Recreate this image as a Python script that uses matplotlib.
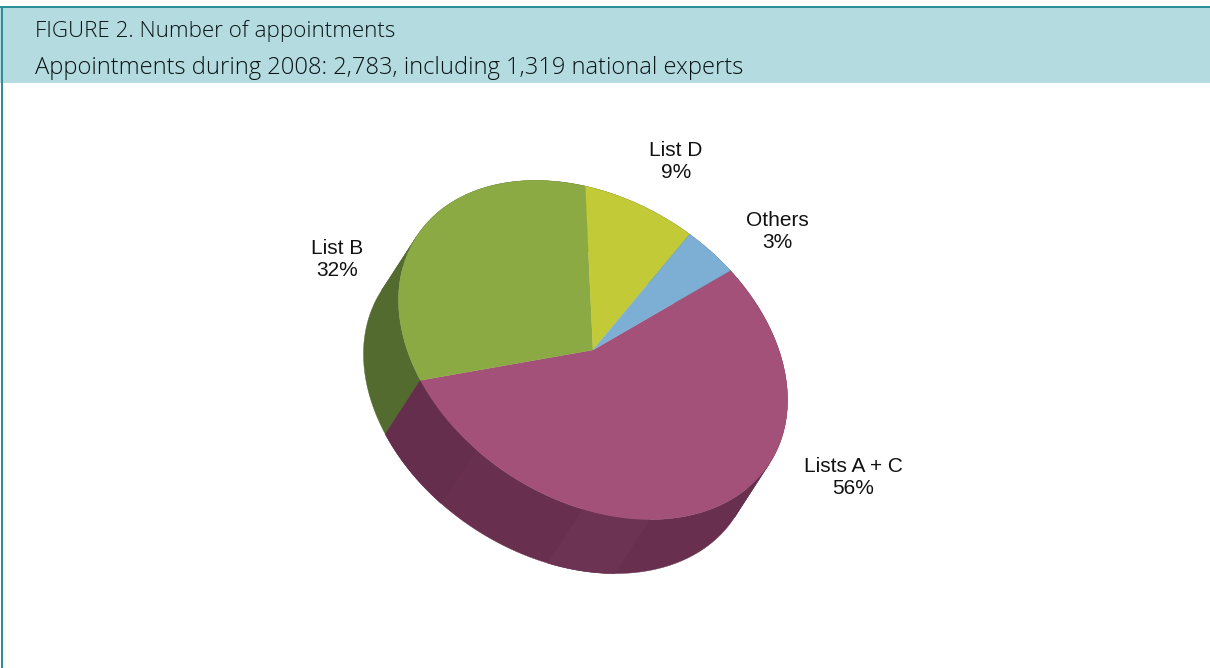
import numpy as np
import matplotlib
matplotlib.use('Agg')
import matplotlib.pyplot as plt
from matplotlib.patches import Wedge, Polygon, Rectangle
from matplotlib.transforms import Affine2D

# data
title_lines = ['FIGURE 2. Number of appointments',
               'Appointments during 2008: 2,783, including 1,319 national experts']
names = ['Lists A + C', 'List B', 'List D', 'Others']
percents = [56, 32, 9, 3]
# share of the circle each slice takes as drawn in the picture
drawn_shares = [54.9, 32.0, 8.9, 4.2]

top_colors = ['#A35178', '#8BAA43', '#C2CA37', '#7DAED4']
wall_colors = ['#682F4E', '#546B30', '#6F7420', '#4C7396']
label_pos = [(853, 477), (337, 260), (676, 161), (777, 231)]

# ellipse of the pie top, in pixels
cx, cy = 593, 350
M = np.array([[194.5, 0.0], [50.0, 162.0]])
depth = np.array([-35.0, 54.0])
start_angle = -45.1

fig = plt.figure(figsize=(12.10, 6.68), dpi=100)
ax = fig.add_axes([0, 0, 1, 1])
ax.set_xlim(0, 1210)
ax.set_ylim(668, 0)
ax.axis('off')

# header band and frame
ax.add_patch(Rectangle((0, 8), 1210, 75, fc='#B4DBE0', ec='none'))
ax.add_patch(Rectangle((0, 6), 1210, 2.2, fc='#2F8F99', ec='none'))
ax.add_patch(Rectangle((1, 6), 2, 662, fc='#2F8F99', ec='none'))
ax.text(35, 31.5, title_lines[0], fontsize=16.1, family='Open Sans', weight='light', color='#0A1416', va='center')
ax.text(35, 68.5, title_lines[1], fontsize=17.1, family='Open Sans', weight='light', color='#0A1416', va='center')

# rim angles where the wall outline leaves the ellipse
d_unit = np.linalg.solve(M, depth)
tangent = np.degrees(np.arctan2(d_unit[1], d_unit[0]))
tangents = [tangent + 90 + k * 180 for k in range(-3, 4)]


def rim(t0, t1):
    t = np.radians(np.linspace(t0, t1, 120))
    pts = np.column_stack([np.cos(t), np.sin(t)]) @ M.T
    return pts + [cx, cy]


def wall(t0, t1, color):
    # split at the tangent points so each polygon stays simple
    cuts = [t0] + [a for a in tangents if t0 < a < t1] + [t1]
    for a, b in zip(cuts[:-1], cuts[1:]):
        p = rim(a, b)
        ax.add_patch(Polygon(np.vstack([p, (p + depth)[::-1]]), closed=True, fc=color, ec=color, lw=0.3))


to_screen = Affine2D.from_values(M[0, 0], M[1, 0], M[0, 1], M[1, 1], cx, cy) + ax.transData

angles = start_angle + np.concatenate([[0], np.cumsum(drawn_shares)]) * 3.6

# side walls, back ones first
for i in [2, 3, 1, 0]:
    wall(angles[i], angles[i + 1], wall_colors[i])

# slight shading steps seen on the purple wall
wall(73, 93, '#6D3352')
wall(127, 135, '#652E4C')
wall(135, angles[1], '#652E4C')

# top of the pie
for i in range(len(names)):
    ax.add_patch(Wedge((0, 0), 1, angles[i], angles[i + 1], fc=top_colors[i], ec=top_colors[i],
                       lw=0.2, transform=to_screen))

for name, pct, (x, y) in zip(names, percents, label_pos):
    ax.text(x, y, '%s\n%d%%' % (name, pct), fontsize=15, family='Liberation Sans', color='#111111',
            ha='center', va='center', linespacing=1.2)

fig.savefig('out.png', dpi=100)
